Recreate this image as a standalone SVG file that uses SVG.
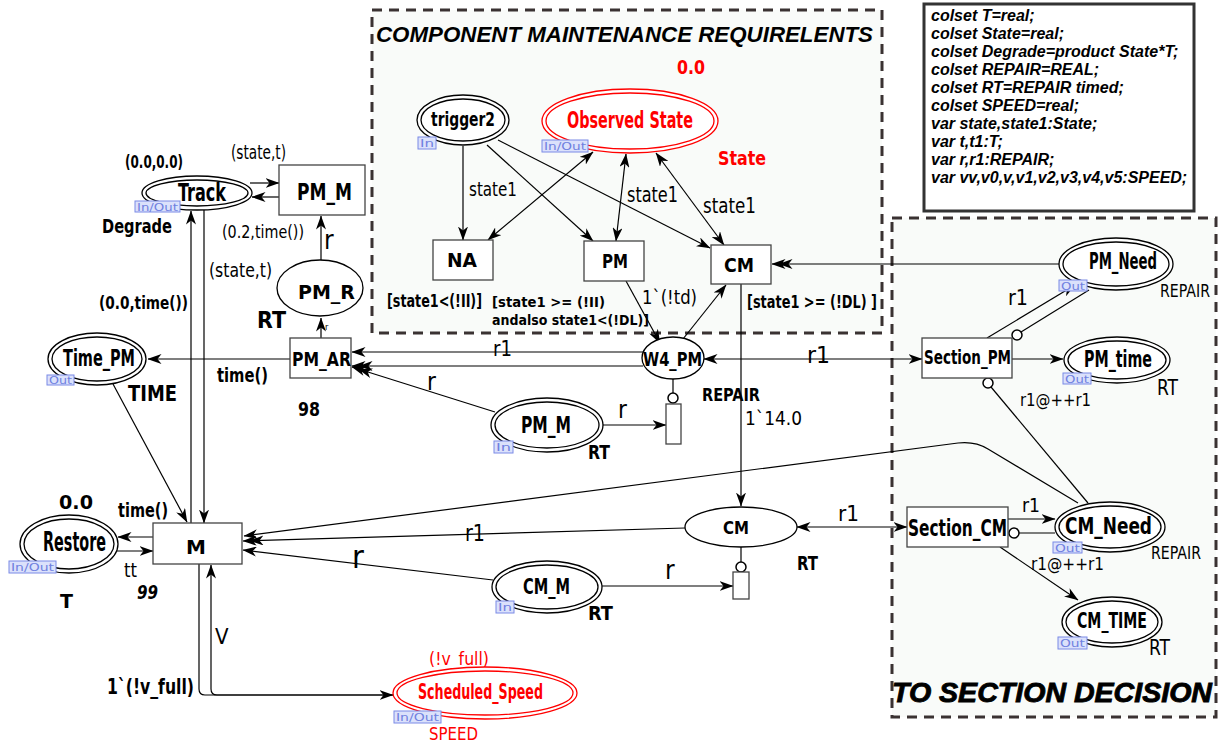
<svg xmlns="http://www.w3.org/2000/svg" width="1219" height="745" viewBox="0 0 1219 745">
<style>
.bg{fill:#ffffff}
.zone{fill:#f9fbf9;stroke:#3a3232;stroke-width:3;stroke-dasharray:10,7}
.pl{fill:#ffffff;stroke:#000;stroke-width:1.3}
.plr{fill:#ffffff;stroke:#ff0000;stroke-width:1.3}
.tr{fill:#ffffff;stroke:#444;stroke-width:1.3}
.arc{fill:none;stroke:#000;stroke-width:1.2}
.inh{fill:#ffffff;stroke:#000;stroke-width:1.5}
.tag rect{fill:#dbe1fb;stroke:#7b8ae6;stroke-width:1}
.tag text{fill:#6f80e0;font-family:"DejaVu Sans",sans-serif;font-size:11px}
.nm{font-family:"DejaVu Sans",sans-serif;font-weight:bold;font-stretch:condensed;fill:#000}
.wd{font-family:"DejaVu Sans",sans-serif;font-weight:bold;fill:#000}
.lb{font-family:"DejaVu Sans",sans-serif;font-stretch:condensed;fill:#000}
.red{fill:#ff0000}
.decl{font-family:"Liberation Sans",Arial,sans-serif;font-weight:bold;font-style:italic;font-size:16px;fill:#000}
.ttl{font-family:"Liberation Sans",Arial,sans-serif;font-weight:bold;font-style:italic;fill:#000}
</style>
<defs>
<marker id="ah" viewBox="0 0 14 10" refX="13.5" refY="5" markerWidth="14" markerHeight="10" orient="auto-start-reverse" markerUnits="userSpaceOnUse"><path d="M0,0 L14,5 L0,10 L4,5 z" fill="#000"/></marker>
<marker id="ah2" viewBox="0 0 21 10" refX="20.5" refY="5" markerWidth="21" markerHeight="10" orient="auto-start-reverse" markerUnits="userSpaceOnUse"><path d="M0,0 L14,5 L0,10 L4,5 z M7,0 L21,5 L7,10 L11,5 z" fill="#000"/></marker>
</defs>
<rect class="bg" x="0" y="0" width="1219" height="745"/>

<g id="zone-component">
<rect class="zone" x="372" y="10" width="510" height="323"/>
<text class="ttl" x="376" y="42" font-size="22" textLength="497" lengthAdjust="spacingAndGlyphs">COMPONENT MAINTENANCE REQUIRELENTS</text>
</g>
<g id="zone-section">
<rect class="zone" x="892" y="218" width="324" height="499"/>
<text class="ttl" x="892" y="702" font-size="28" stroke="#000" stroke-width="0.9" textLength="320" lengthAdjust="spacingAndGlyphs">TO SECTION DECISION</text>
</g>

<g id="declarations">
<rect x="924" y="4" width="270" height="207" fill="#ffffff" stroke="#333" stroke-width="3"/>
<text class="decl" x="931" y="21">colset T=real;</text>
<text class="decl" x="931" y="39">colset State=real;</text>
<text class="decl" x="931" y="57">colset Degrade=product State*T;</text>
<text class="decl" x="931" y="75">colset REPAIR=REAL;</text>
<text class="decl" x="931" y="93">colset RT=REPAIR timed;</text>
<text class="decl" x="931" y="111">colset SPEED=real;</text>
<text class="decl" x="931" y="129">var state,state1:State;</text>
<text class="decl" x="931" y="147">var t,t1:T;</text>
<text class="decl" x="931" y="165">var r,r1:REPAIR;</text>
<text class="decl" x="931" y="183">var vv,v0,v,v1,v2,v3,v4,v5:SPEED;</text>
</g>

<g id="connectors">
<path class="arc" d="M250,183 L279,183" marker-end="url(#ah)"/>
<path class="arc" d="M279,197 L252,197" marker-end="url(#ah)"/>
<path class="arc" d="M321,260 L321,216" marker-end="url(#ah)"/>
<path class="arc" d="M321,338 L321,318" marker-end="url(#ah)"/>
<path class="arc" d="M290,359 L148,359" marker-end="url(#ah)"/>
<path class="arc" d="M191,523 L191,211" marker-end="url(#ah)"/>
<path class="arc" d="M204,210 L204,523" marker-end="url(#ah)"/>
<path class="arc" d="M113,384 L187,522" marker-end="url(#ah)"/>
<path class="arc" d="M153,537 L118,537" marker-end="url(#ah)"/>
<path class="arc" d="M116,551 L153,551" marker-end="url(#ah)"/>
<path class="arc" d="M199,564 L199,689 Q199,695 205,695 L393,695" marker-end="url(#ah)"/>
<path class="arc" d="M393,695 L217,695 Q211,695 211,689 L211,565" marker-end="url(#ah)"/>
<path class="arc" d="M685,528 L243,541" marker-end="url(#ah2)"/>
<path class="arc" d="M493,580 L243,550" marker-end="url(#ah)"/>
<path class="arc" d="M1078,503 L988,449 Q975,441 958,443 L244,536" marker-end="url(#ah)"/>
<path class="arc" d="M463,146 L463,240" marker-end="url(#ah)"/>
<path class="arc" d="M487,145 L593,241" marker-end="url(#ah)"/>
<path class="arc" d="M498,140 L710,248" marker-end="url(#ah)"/>
<path class="arc" d="M593,152 L488,240" marker-start="url(#ah)" marker-end="url(#ah)"/>
<path class="arc" d="M626,154 L616,241" marker-start="url(#ah)" marker-end="url(#ah)"/>
<path class="arc" d="M656,153 L724,245" marker-start="url(#ah)" marker-end="url(#ah)"/>
<path class="arc" d="M626,281 L660,343" marker-end="url(#ah)"/>
<path class="arc" d="M683,339 L726,285" marker-end="url(#ah)"/>
<path class="arc" d="M741,284 L741,506" marker-end="url(#ah)"/>
<path class="arc" d="M1059,264 L772,264" marker-end="url(#ah2)"/>
<path class="arc" d="M643,352 L352,352" marker-end="url(#ah)"/>
<path class="arc" d="M643,366 L352,366" marker-end="url(#ah2)"/>
<path class="arc" d="M495,412 L352,367" marker-end="url(#ah2)"/>
<path class="arc" d="M704,359 L922,359" marker-start="url(#ah)" marker-end="url(#ah)"/>
<path class="arc" d="M673,379 L673,393"/>
<circle class="inh" cx="673" cy="398" r="5"/>
<path class="arc" d="M603,425 L666,425" marker-end="url(#ah)"/>
<path class="arc" d="M797,527 L907,527" marker-start="url(#ah)" marker-end="url(#ah)"/>
<path class="arc" d="M741,547 L741,562"/>
<circle class="inh" cx="741" cy="567" r="5"/>
<path class="arc" d="M602,586 L733,586" marker-end="url(#ah)"/>
<path class="arc" d="M1012,359 L1063,359" marker-end="url(#ah)"/>
<path class="arc" d="M987,338 L1075,285" marker-end="url(#ah)"/>
<path class="arc" d="M1089,290 L1021,332"/>
<circle class="inh" cx="1017" cy="335" r="5"/>
<path class="arc" d="M1088,503 L991,387"/>
<circle class="inh" cx="988" cy="383" r="5"/>
<path class="arc" d="M1008,519 L1055,519" marker-end="url(#ah)"/>
<path class="arc" d="M1055,533 L1019,533"/>
<circle class="inh" cx="1014" cy="533" r="5"/>
<path class="arc" d="M1000,547 L1078,600" marker-end="url(#ah)"/>
</g>

<g id="arc-labels">
<text class="lb" x="231" y="159" font-size="19" textLength="55" lengthAdjust="spacingAndGlyphs">(state,t)</text>
<text class="lb" x="222" y="238" font-size="18" textLength="82" lengthAdjust="spacingAndGlyphs">(0.2,time())</text>
<text class="lb" x="209" y="277" font-size="20" textLength="63" lengthAdjust="spacingAndGlyphs">(state,t)</text>
<text class="wd" x="99" y="309" font-size="18" font-stretch="condensed" textLength="89" lengthAdjust="spacingAndGlyphs">(0.0,time())</text>
<text class="lb" x="324" y="249" font-size="26">r</text>
<text class="lb" x="325" y="330" font-size="9">r</text>
<text class="nm" x="217" y="382" font-size="19" textLength="51" lengthAdjust="spacingAndGlyphs">time()</text>
<text class="nm" x="118" y="517" font-size="19" textLength="50" lengthAdjust="spacingAndGlyphs">time()</text>
<text class="lb" x="124" y="577" font-size="20" textLength="13" lengthAdjust="spacingAndGlyphs">tt</text>
<text class="lb" x="215" y="644" font-size="22">V</text>
<text class="nm" x="107" y="694" font-size="21" textLength="87" lengthAdjust="spacingAndGlyphs">1`(!v_full)</text>
<text class="lb red" x="429" y="665" font-size="18" textLength="60" lengthAdjust="spacingAndGlyphs">(!v_full)</text>
<text class="lb" x="469" y="196" font-size="20" textLength="48" lengthAdjust="spacingAndGlyphs">state1</text>
<text class="lb" x="627" y="202" font-size="21" textLength="51" lengthAdjust="spacingAndGlyphs">state1</text>
<text class="lb" x="703" y="213" font-size="21" textLength="53" lengthAdjust="spacingAndGlyphs">state1</text>
<text class="lb" x="642" y="304" font-size="19" textLength="55" lengthAdjust="spacingAndGlyphs">1`(!td)</text>
<text class="lb" x="493" y="356" font-size="22" textLength="19" lengthAdjust="spacingAndGlyphs">r1</text>
<text class="lb" x="427" y="390" font-size="24">r</text>
<text class="lb" x="807" y="363" font-size="23" textLength="23" lengthAdjust="spacingAndGlyphs">r1</text>
<text class="lb" x="618" y="418" font-size="24">r</text>
<text class="lb" x="745" y="425" font-size="20" textLength="57" lengthAdjust="spacingAndGlyphs">1`14.0</text>
<text class="lb" x="465" y="541" font-size="23" textLength="20" lengthAdjust="spacingAndGlyphs">r1</text>
<text class="lb" x="352" y="568" font-size="32">r</text>
<text class="lb" x="838" y="521" font-size="21" textLength="21" lengthAdjust="spacingAndGlyphs">r1</text>
<text class="lb" x="665" y="579" font-size="26">r</text>
<text class="lb" x="1008" y="305" font-size="22" textLength="20" lengthAdjust="spacingAndGlyphs">r1</text>
<text class="lb" x="1020" y="406" font-size="18" textLength="71" lengthAdjust="spacingAndGlyphs">r1@++r1</text>
<text class="lb" x="1022" y="512" font-size="19" textLength="18" lengthAdjust="spacingAndGlyphs">r1</text>
<text class="lb" x="1031" y="570" font-size="18" textLength="73" lengthAdjust="spacingAndGlyphs">r1@++r1</text>
</g>

<g id="place-Track">
<ellipse class="pl" cx="197" cy="193" rx="55" ry="17"/>
<ellipse class="pl" cx="197" cy="193" rx="51" ry="13"/>
<text class="nm" x="178" y="201" font-size="24" textLength="48" lengthAdjust="spacingAndGlyphs">Track</text>
<g class="tag"><rect x="135" y="201" width="45" height="11"/><text x="137" y="210.5" textLength="41" lengthAdjust="spacingAndGlyphs">In/Out</text></g>
<text class="wd" x="125" y="168" font-size="17" font-stretch="condensed" textLength="58" lengthAdjust="spacingAndGlyphs">(0.0,0.0)</text>
<text class="nm" x="102" y="233" font-size="20" textLength="70" lengthAdjust="spacingAndGlyphs">Degrade</text>
</g>

<g id="trans-PM_M">
<rect class="tr" x="279" y="165" width="86" height="50"/>
<text class="nm" x="297" y="200" font-size="23" textLength="55" lengthAdjust="spacingAndGlyphs">PM_M</text>
</g>

<g id="place-PM_R">
<ellipse class="pl" cx="320" cy="288" rx="43" ry="28"/>
<text class="nm" x="298" y="299" font-size="20" textLength="57" lengthAdjust="spacingAndGlyphs">PM_R</text>
<text class="nm" x="257" y="328" font-size="23" textLength="29" lengthAdjust="spacingAndGlyphs">RT</text>
</g>

<g id="trans-PM_AR">
<rect class="tr" x="290" y="338" width="61" height="40"/>
<text class="nm" x="292" y="366" font-size="20" textLength="59" lengthAdjust="spacingAndGlyphs">PM_AR</text>
<text class="nm" x="298" y="416" font-size="19" textLength="22" lengthAdjust="spacingAndGlyphs">98</text>
</g>

<g id="place-Time_PM">
<ellipse class="pl" cx="97" cy="359" rx="49" ry="26"/>
<ellipse class="pl" cx="97" cy="359" rx="45" ry="22"/>
<text class="nm" x="63" y="366" font-size="23" textLength="72" lengthAdjust="spacingAndGlyphs">Time_PM</text>
<g class="tag"><rect x="47" y="375" width="27" height="10"/><text x="49" y="383.5" textLength="23" lengthAdjust="spacingAndGlyphs">Out</text></g>
<text class="nm" x="128" y="401" font-size="21" textLength="49" lengthAdjust="spacingAndGlyphs">TIME</text>
</g>

<g id="place-Restore">
<ellipse class="pl" cx="69" cy="544" rx="49" ry="29"/>
<ellipse class="pl" cx="69" cy="544" rx="45" ry="25"/>
<text class="nm" x="43" y="551" font-size="26" textLength="63" lengthAdjust="spacingAndGlyphs">Restore</text>
<g class="tag"><rect x="9" y="561" width="47" height="12"/><text x="11" y="571" textLength="43" lengthAdjust="spacingAndGlyphs">In/Out</text></g>
<text class="wd" x="59" y="509" font-size="20" textLength="34" lengthAdjust="spacingAndGlyphs">0.0</text>
<text class="wd" x="60" y="608" font-size="19">T</text>
</g>

<g id="trans-M">
<rect class="tr" x="153" y="523" width="89" height="41"/>
<text class="wd" x="186" y="554" font-size="20">M</text>
<text class="nm" x="137" y="599" font-size="20" font-style="italic" textLength="21" lengthAdjust="spacingAndGlyphs">99</text>
</g>

<g id="place-Scheduled_Speed">
<ellipse class="plr" cx="485" cy="693" rx="92" ry="26"/>
<ellipse class="plr" cx="485" cy="693" rx="88" ry="22"/>
<text class="nm red" x="418" y="699" font-size="21" textLength="125" lengthAdjust="spacingAndGlyphs">Scheduled_Speed</text>
<g class="tag"><rect x="394" y="711" width="47" height="12"/><text x="396" y="721" textLength="43" lengthAdjust="spacingAndGlyphs">In/Out</text></g>
<text class="lb red" x="429" y="740" font-size="18" textLength="49" lengthAdjust="spacingAndGlyphs">SPEED</text>
</g>

<g id="place-trigger2">
<ellipse class="pl" cx="463" cy="120" rx="46" ry="25"/>
<ellipse class="pl" cx="463" cy="120" rx="42" ry="21"/>
<text class="nm" x="431" y="126" font-size="20" textLength="64" lengthAdjust="spacingAndGlyphs">trigger2</text>
<g class="tag"><rect x="418" y="137" width="18" height="12"/><text x="420" y="147" textLength="14" lengthAdjust="spacingAndGlyphs">In</text></g>
</g>

<g id="place-Observed_State">
<ellipse class="plr" cx="630" cy="121" rx="88" ry="32"/>
<ellipse class="plr" cx="630" cy="121" rx="84" ry="28"/>
<text class="nm red" x="567" y="128" font-size="23" textLength="126" lengthAdjust="spacingAndGlyphs">Observed State</text>
<g class="tag"><rect x="542" y="140" width="46" height="12"/><text x="544" y="150" textLength="42" lengthAdjust="spacingAndGlyphs">In/Out</text></g>
<text class="wd red" x="677" y="74" font-size="19" textLength="28" lengthAdjust="spacingAndGlyphs">0.0</text>
<text class="nm red" x="718" y="165" font-size="20" textLength="48" lengthAdjust="spacingAndGlyphs">State</text>
</g>

<g id="trans-NA">
<rect class="tr" x="433" y="240" width="60" height="40"/>
<text class="wd" x="447" y="267" font-size="19" textLength="30" lengthAdjust="spacingAndGlyphs">NA</text>
<text class="nm" x="387" y="307" font-size="17" textLength="95" lengthAdjust="spacingAndGlyphs">[state1&lt;(!II)]</text>
</g>

<g id="trans-PM">
<rect class="tr" x="584" y="241" width="60" height="40"/>
<text class="nm" x="492" y="307" font-size="14" textLength="113" lengthAdjust="spacingAndGlyphs">[state1 &gt;= (!II)</text>
<text class="wd" x="602" y="268" font-size="19" textLength="26" lengthAdjust="spacingAndGlyphs">PM</text>
<text class="nm" x="492" y="325" font-size="14" textLength="157" lengthAdjust="spacingAndGlyphs">andalso state1&lt;(!DL)]</text>
</g>

<g id="trans-CM">
<rect class="tr" x="711" y="245" width="60" height="39"/>
<text class="wd" x="724" y="272" font-size="19" textLength="30" lengthAdjust="spacingAndGlyphs">CM</text>
<text class="nm" x="747" y="308" font-size="18" textLength="130" lengthAdjust="spacingAndGlyphs">[state1 &gt;= (!DL) ]</text>
</g>

<g id="place-W4_PM">
<ellipse class="pl" cx="673" cy="358" rx="31" ry="21"/>
<text class="nm" x="643" y="366" font-size="20" textLength="59" lengthAdjust="spacingAndGlyphs">W4_PM</text>
<text class="nm" x="702" y="401" font-size="17" textLength="58" lengthAdjust="spacingAndGlyphs">REPAIR</text>
</g>

<g id="trans-W4_PM_rel">
<rect class="tr" x="666" y="404" width="15" height="40"/>
</g>

<g id="place-PM_M_in">
<ellipse class="pl" cx="547" cy="425" rx="56" ry="27"/>
<ellipse class="pl" cx="547" cy="425" rx="52" ry="23"/>
<text class="nm" x="521" y="433" font-size="23" textLength="50" lengthAdjust="spacingAndGlyphs">PM_M</text>
<g class="tag"><rect x="494" y="441" width="19" height="12"/><text x="496" y="451" textLength="15" lengthAdjust="spacingAndGlyphs">In</text></g>
<text class="nm" x="588" y="459" font-size="20" textLength="22" lengthAdjust="spacingAndGlyphs">RT</text>
</g>

<g id="place-CM">
<ellipse class="pl" cx="741" cy="527" rx="56" ry="20"/>
<text class="wd" x="723" y="534" font-size="18" textLength="26" lengthAdjust="spacingAndGlyphs">CM</text>
<text class="nm" x="797" y="570" font-size="19" textLength="21" lengthAdjust="spacingAndGlyphs">RT</text>
</g>

<g id="trans-CM_rel">
<rect class="tr" x="733" y="572" width="16" height="27"/>
</g>

<g id="place-CM_M_in">
<ellipse class="pl" cx="547" cy="587" rx="55" ry="26"/>
<ellipse class="pl" cx="547" cy="587" rx="51" ry="22"/>
<text class="nm" x="523" y="594" font-size="21" textLength="47" lengthAdjust="spacingAndGlyphs">CM_M</text>
<g class="tag"><rect x="496" y="601" width="18" height="12"/><text x="498" y="611" textLength="14" lengthAdjust="spacingAndGlyphs">In</text></g>
<text class="nm" x="588" y="620" font-size="20" textLength="25" lengthAdjust="spacingAndGlyphs">RT</text>
</g>

<g id="place-PM_Need">
<ellipse class="pl" cx="1116" cy="264" rx="57" ry="26"/>
<ellipse class="pl" cx="1116" cy="264" rx="53" ry="22"/>
<text class="nm" x="1089" y="269" font-size="23" textLength="68" lengthAdjust="spacingAndGlyphs">PM_Need</text>
<g class="tag"><rect x="1059" y="280" width="28" height="11"/><text x="1061" y="289.5" textLength="24" lengthAdjust="spacingAndGlyphs">Out</text></g>
<text class="lb" x="1160" y="297" font-size="17" textLength="50" lengthAdjust="spacingAndGlyphs">REPAIR</text>
</g>

<g id="trans-Section_PM">
<rect class="tr" x="922" y="338" width="90" height="40"/>
<text class="nm" x="924" y="364" font-size="20" textLength="87" lengthAdjust="spacingAndGlyphs">Section_PM</text>
</g>

<g id="place-PM_time">
<ellipse class="pl" cx="1117" cy="360" rx="53" ry="23"/>
<ellipse class="pl" cx="1117" cy="360" rx="49" ry="19"/>
<text class="nm" x="1084" y="367" font-size="23" textLength="68" lengthAdjust="spacingAndGlyphs">PM_time</text>
<g class="tag"><rect x="1063" y="373" width="28" height="11"/><text x="1065" y="382.5" textLength="24" lengthAdjust="spacingAndGlyphs">Out</text></g>
<text class="lb" x="1157" y="395" font-size="21" textLength="21" lengthAdjust="spacingAndGlyphs">RT</text>
</g>

<g id="trans-Section_CM">
<rect class="tr" x="907" y="507" width="101" height="40"/>
<text class="nm" x="908" y="536" font-size="23" textLength="99" lengthAdjust="spacingAndGlyphs">Section_CM</text>
</g>

<g id="place-CM_Need">
<ellipse class="pl" cx="1110" cy="527" rx="55" ry="25"/>
<ellipse class="pl" cx="1110" cy="527" rx="51" ry="21"/>
<text class="nm" x="1065" y="534" font-size="23" textLength="87" lengthAdjust="spacingAndGlyphs">CM_Need</text>
<g class="tag"><rect x="1053" y="542" width="29" height="11"/><text x="1055" y="551.5" textLength="25" lengthAdjust="spacingAndGlyphs">Out</text></g>
<text class="lb" x="1151" y="559" font-size="17" textLength="50" lengthAdjust="spacingAndGlyphs">REPAIR</text>
</g>

<g id="place-CM_TIME">
<ellipse class="pl" cx="1112" cy="622" rx="50" ry="25"/>
<ellipse class="pl" cx="1112" cy="622" rx="46" ry="21"/>
<text class="nm" x="1077" y="628" font-size="22" textLength="70" lengthAdjust="spacingAndGlyphs">CM_TIME</text>
<g class="tag"><rect x="1058" y="637" width="29" height="12"/><text x="1060" y="647" textLength="25" lengthAdjust="spacingAndGlyphs">Out</text></g>
<text class="lb" x="1149" y="655" font-size="21" textLength="21" lengthAdjust="spacingAndGlyphs">RT</text>
</g>
</svg>
